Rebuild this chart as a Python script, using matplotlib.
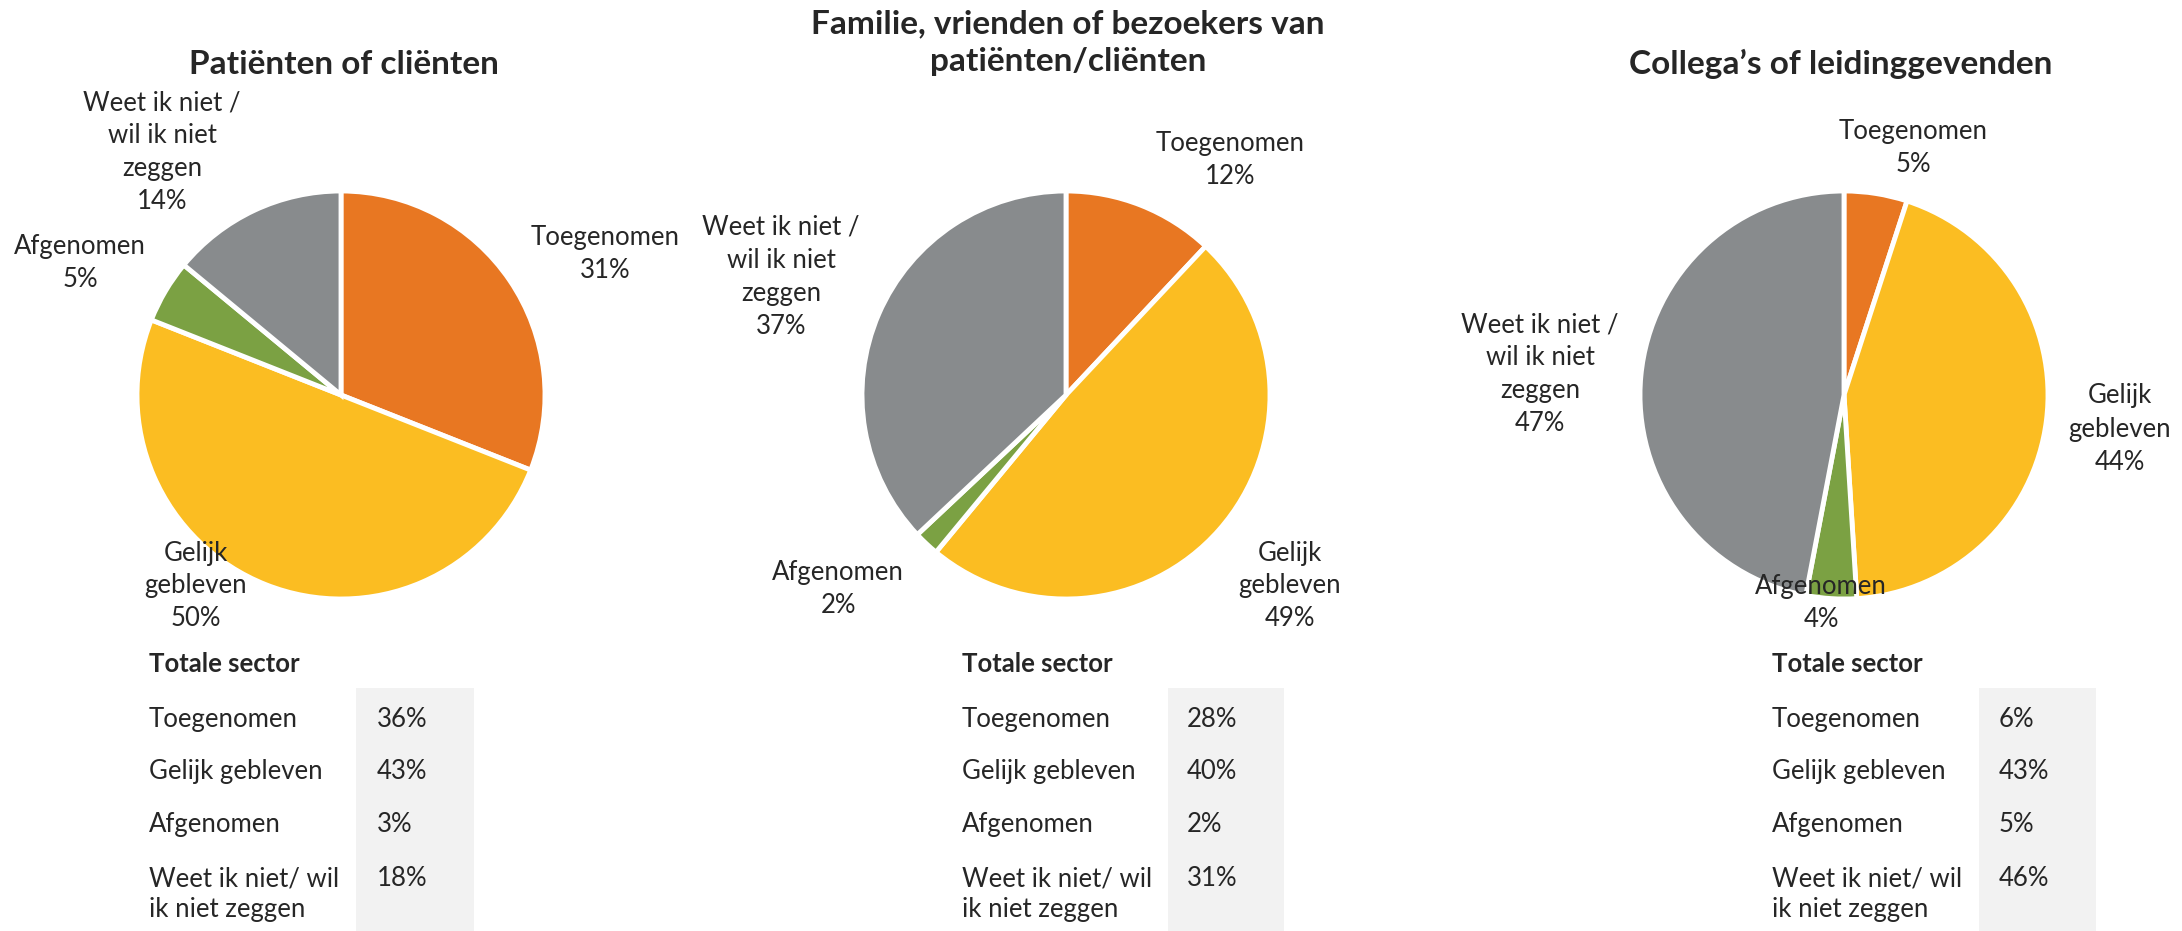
import matplotlib.pyplot as plt
from matplotlib.patches import Rectangle

plt.rcParams['font.family'] = ['Lato', 'DejaVu Sans']

# figure size in pixels (dpi 100)
W, H = 2182, 931

# ---- data ----
pie_labels = ["Toegenomen", "Gelijk\ngebleven", "Afgenomen", "Weet ik niet /\nwil ik niet\nzeggen"]
table_labels = ["Toegenomen", "Gelijk gebleven", "Afgenomen", "Weet ik niet/ wil\nik niet zeggen"]

titles = ["Patiënten of cliënten",
          "Familie, vrienden of bezoekers van\npatiënten/cliënten",
          "Collega’s of leidinggevenden"]

patienten = [31, 50, 5, 14]
familie = [12, 49, 2, 37]
collegas = [5, 44, 4, 47]

sector_patienten = [36, 43, 3, 18]
sector_familie = [28, 40, 2, 31]
sector_collegas = [6, 43, 5, 46]

colors = ["#E87722", "#FBBD22", "#7BA143", "#888B8D"]
text_color = "#262626"

# ---- layout (pixels, measured from top-left) ----
pie_cx = [341, 1066, 1844]
pie_cy = 395
radius = 204
title_pos = [(344, 64), (1068, 43), (1841, 64)]
label_pos = [
    [(605, 254), (196, 586), (80, 263), (162, 152)],
    [(1230, 160), (1290, 586), (838, 589), (781, 277)],
    [(1913, 148), (2120, 429), (1821, 603), (1540, 374)],
]
table_x = [149, 962, 1772]
value_x = [377, 1187, 1999]
box_x = [(356, 474), (1168, 1284), (1979, 2096)]
header_y = 664
row_y = [718, 770, 823, 877]
box_top = 688

panels = [(patienten, sector_patienten), (familie, sector_familie), (collegas, sector_collegas)]

fig = plt.figure(figsize=(W / 100, H / 100), dpi=100)
ax = fig.add_axes([0, 0, 1, 1])


def fy(y):
    # flip top-based pixel y into data y
    return H - y


for i, (vals, sector) in enumerate(panels):
    ax.pie(vals, colors=colors, startangle=90, counterclock=False,
           center=(pie_cx[i], fy(pie_cy)), radius=radius,
           wedgeprops=dict(edgecolor="white", linewidth=3.5))

    tx, ty = title_pos[i]
    ax.text(tx, fy(ty), titles[i], ha='center', va='center', fontsize=24,
            fontweight='bold', color=text_color, linespacing=1.35)

    for (lx, ly), lab, v in zip(label_pos[i], pie_labels, vals):
        ax.text(lx, fy(ly), f"{lab}\n{v}%", ha='center', va='center', fontsize=18.5,
                color=text_color, linespacing=1.4, multialignment='center')

    # totale sector table
    x0, x1 = box_x[i]
    ax.add_patch(Rectangle((x0, 0), x1 - x0, fy(box_top), facecolor="#F2F2F2",
                           edgecolor='none', zorder=0))
    ax.text(table_x[i], fy(header_y), "Totale sector", ha='left', va='center',
            fontsize=18.5, fontweight='bold', color=text_color)
    for lab, v, ry in zip(table_labels, sector, row_y):
        # anchor every row on its first line
        ax.text(table_x[i], fy(ry - 11), lab, ha='left', va='top', fontsize=18.5,
                color=text_color, linespacing=1.3)
        ax.text(value_x[i], fy(ry - 11), f"{v}%", ha='left', va='top',
                fontsize=18.5, color=text_color)

ax.set_xlim(0, W)
ax.set_ylim(0, H)
ax.set_aspect('auto')
ax.axis('off')

fig.savefig("out.png", dpi=100, facecolor="white")
